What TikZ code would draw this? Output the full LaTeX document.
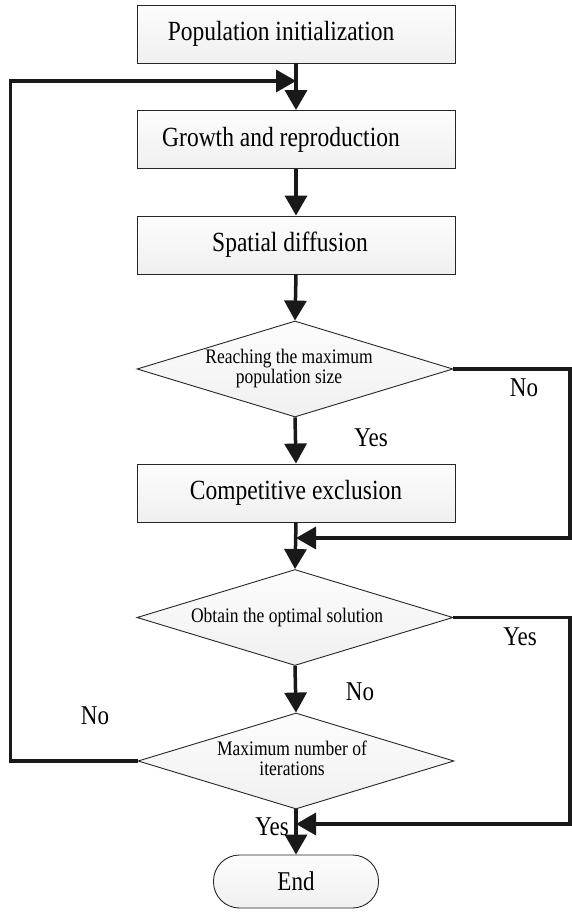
\documentclass[tikz,border=0pt]{standalone}
\usepackage{fontspec}
\usepackage{graphicx}
\setmainfont{Liberation Serif}
\usetikzlibrary{shapes.geometric,arrows.meta}
\newcommand\vstr[1]{\scalebox{1}[1.18]{#1}}
\newcommand\twol[2]{\vstr{\begin{tabular}{@{}c@{}}#1\\#2\end{tabular}}}
\tikzset{
  procbox/.style={rectangle, draw=black!85, line width=0.9pt, top color=gray!2, bottom color=gray!12,
    minimum width=318pt, minimum height=58pt, inner sep=0pt, font=\fontsize{23.5}{28}\selectfont},
  decide/.style={diamond, draw=black!85, line width=0.9pt, top color=gray!2, bottom color=gray!12,
    minimum width=316pt, minimum height=96pt, inner sep=0pt, aspect=3.3, align=center,
    font=\fontsize{17.5}{15.5}\selectfont},
  termbox/.style={rectangle, rounded corners=26pt, draw=black!85, line width=0.9pt, top color=gray!2, bottom color=gray!12,
    minimum width=165pt, minimum height=53pt, inner sep=0pt, font=\fontsize{23}{27}\selectfont},
  conn/.style={line width=3.5pt, draw=black!90, -{Triangle[length=20pt,width=22pt]}},
  lbl/.style={font=\fontsize{23}{27}\selectfont, inner sep=0pt}
}
\begin{document}
\begin{tikzpicture}[x=1pt,y=-1pt]
\useasboundingbox[fill=white] (0,0) rectangle (572,912);
% nodes
\node[procbox] (n1) at (296,34) {\vstr{Population initialization}\hspace*{30pt}};
\node[procbox] (n2) at (296,139.5) {\vstr{Growth and reproduction}\hspace*{30pt}};
\node[procbox] (n3) at (296,245) {\vstr{Spatial diffusion}\hspace*{12pt}};
\node[decide] (d1) at (295,369) {\twol{Reaching the maximum}{population size}\hspace*{12pt}};
\node[procbox] (n4) at (296,493) {\vstr{Competitive exclusion}};
\node[decide] (d2) at (295,617.5) {\vstr{Obtain the optimal solution}\hspace*{16pt}};
\node[decide] (d3) at (296,761) {\twol{Maximum number of}{iterations}\hspace*{8pt}};
\node[termbox] (e) at (296,881.5) {\vstr{End}};
% junction coordinates
\coordinate (j1) at (296,81);
\coordinate (j2) at (296,538);
\coordinate (j3) at (296,824);
\coordinate (l1) at (10.5,81);
\coordinate (r1) at (570,538);
\coordinate (r2) at (570,824);
% vertical flow
\draw[conn] (n1.south) -- (n2.north);
\draw[conn] (n2.south) -- (n3.north);
\draw[conn] (n3.south) -- (d1.north);
\draw[conn] (d1.south) -- (n4.north);
\draw[conn] (n4.south) -- (d2.north);
\draw[conn] (d2.south) -- (d3.north);
\draw[conn] (d3.south) -- (e.north);
% loops
\draw[conn] (d3.west) -| (l1) -- (j1);
\draw[conn] (d1.east) -| (r1) -- (j2);
\draw[conn] (d2.east) -| (r2) -- (j3);
% labels
\node[lbl] (t1) at (524,388) {\vstr{No}};
\node[lbl] (t2) at (371,438) {\vstr{Yes}};
\node[lbl] (t3) at (520,637) {\vstr{Yes}};
\node[lbl] (t4) at (360,692) {\vstr{No}};
\node[lbl] (t5) at (95,716) {\vstr{No}};
\node[lbl] (t6) at (272,827) {\vstr{Yes}};
\end{tikzpicture}
\end{document}
